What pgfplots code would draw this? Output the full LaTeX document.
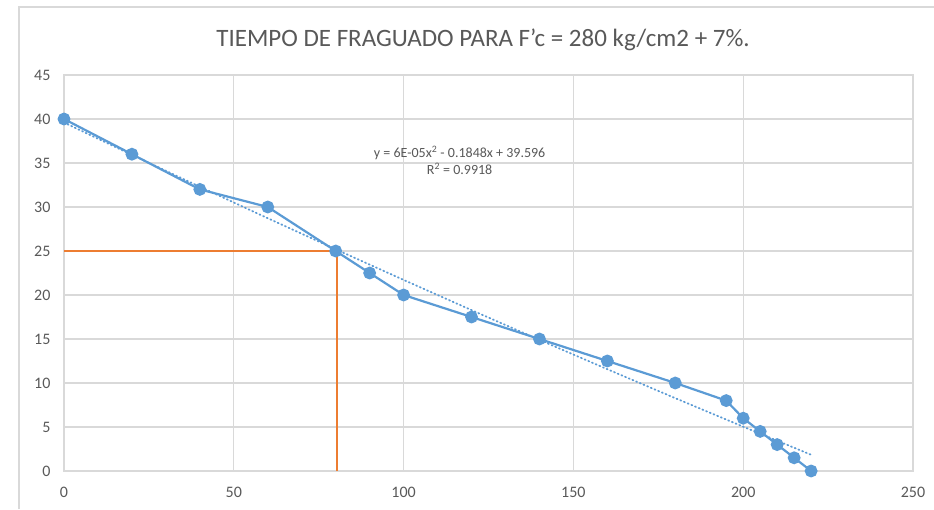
\documentclass[border=0pt]{standalone}
\usepackage{pgfplots}
\pgfplotsset{compat=1.18}
\usepackage{fontspec}
\setmainfont{Carlito}
\definecolor{ser}{HTML}{5B9BD5}
\definecolor{org}{HTML}{ED7D31}
\definecolor{gridc}{HTML}{D9D9D9}
\definecolor{txt}{HTML}{595959}
\begin{document}
\begin{tikzpicture}[x=1pt,y=1pt]
\useasboundingbox (0,0) rectangle (934,509);
\fill[white] (0,0) rectangle (934,509);
\draw[color=gridc, line width=1.5] (19,0) -- (19,502) -- (934,502);
\node[text=txt, font=\fontsize{25}{30}\selectfont] at (483,469) {TIEMPO DE FRAGUADO PARA F'c = 280 kg/cm2 + 7\%.};
\begin{axis}[at={(64pt,38pt)}, anchor=south west, scale only axis,
  width=849pt, height=396pt,
  xmin=0, xmax=250, ymin=0, ymax=45,
  xtick={0,50,...,250}, ytick={0,5,...,45},
  grid=major, grid style={gridc, line width=1.2},
  axis line style={gridc, line width=1.2},
  tick style={draw=none},
  ticklabel style={text=txt, font=\fontsize{16}{19}\selectfont},
  yticklabel style={xshift=-10pt},
  xticklabel style={yshift=-13pt},
  /pgf/number format/assume math mode=true,
  clip=false]
\addplot[org, line width=1.6] coordinates {(0,25) (80,25)};
\addplot[org, line width=1.6] coordinates {(80.3,25) (80.3,0)};
\addplot[ser, line width=1.8, line cap=round, dash pattern=on 1pt off 3pt] coordinates {
(0,39.596) (20,35.924) (40,32.300) (60,28.724) (80,25.196) (100,21.716) (120,18.284) (140,14.900) (160,11.564) (180,8.276) (200,5.036) (220,1.844)};
\addplot[ser, line width=2.2, mark=*, mark size=5.3pt, mark options={fill=ser, draw=ser}] coordinates {
(0,40) (20,36) (40,32) (60,30) (80,25) (90,22.5) (100,20) (120,17.5) (140,15) (160,12.5) (180,10) (195,8) (200,6) (205,4.5) (210,3) (215,1.5) (220,0)};
\node[text=txt, font=\fontsize{14}{17}\selectfont, align=center] at (axis cs:116.5,35.3) {y = 6E-05x\textsuperscript{2} - 0.1848x + 39.596\\R\textsuperscript{2} = 0.9918};
\end{axis}
\end{tikzpicture}
\end{document}
